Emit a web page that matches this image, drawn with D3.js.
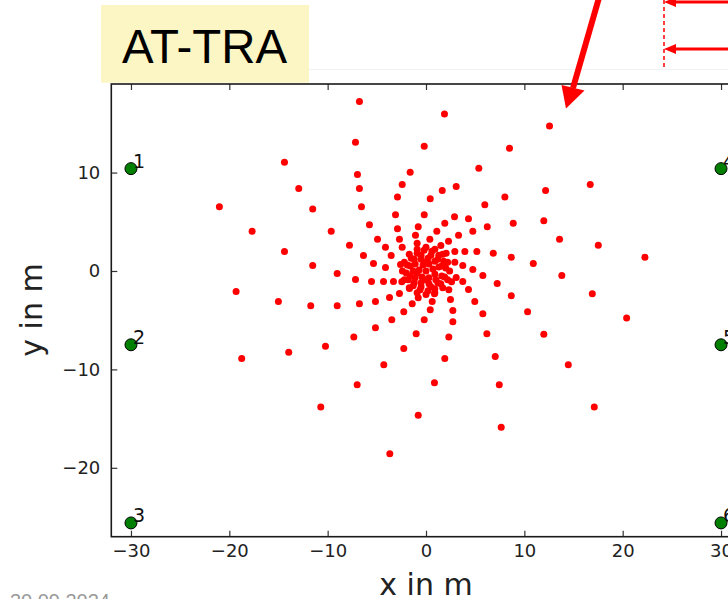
<!DOCTYPE html>
<html><head><meta charset="utf-8">
<script src="https://cdn.jsdelivr.net/npm/d3@7"></script>
<style>body{margin:0;background:#fff;} svg{display:block;}</style>
</head><body>
<svg id="c" width="728" height="599"></svg>
<script>
// ---- data ----
const xTicks = [-30, -20, -10, 0, 10, 20, 30];
const yTicks = [-20, -10, 0, 10];
const stationX = [-30, -30, -30, 30, 30, 30];
const stationY = [10.4, -7.5, -25.6, 10.4, -7.5, -25.6];
const stationLabels = ["1", "2", "3", "4", "5", "6"];
const arrayX = [
 -6.77,1.88,-7.17,-0.18,-14.39,5.37,-1.61,-6.97,-12.94,-2.42,-6.77,3.07,1.65,-2.90,0.43,-11.52,-6.56,5.98,
 -17.68,-9.64,-5.75,-3.10,-0.18,2.90,4.32,1.91,-0.79,-2.90,6.23,4.76,1.10,-4.93,-1.07,-2.70,3.31,2.29,0.39,
 -7.78,-4.12,-2.42,-14.39,2.93,3.95,5.17,-6.36,-11.52,-5.34,-4.12,3.74,4.76,5.78,-9.03,-7.17,-5.54,-4.32,-3.31,
 3.07,3.74,4.32,-15.01,-11.72,-9.03,-6.77,-5.14,-3.71,-2.70,4.96,2.49,0.63,5.78,2.73,0.43,-1.40,-2.26,-3.48,
 -0.18,2.73,-5.14,-7.34,-1.00,2.32,6.19,-13.96,-10.22,-2.26,1.91,-4.29,0.86,-7.00,-10.70,-0.79,-3.68,
 12.56,8.49,16.70,12.16,8.02,8.87,11.98,13.58,17.52,22.26,6.84,8.67,10.91,13.81,7.24,8.67,16.91,10.33,20.40,
 11.98,7.04,14.47,7.45,17.11,7.65,-21.01,-19.31,-18.74,-3.54,-2.59,1.51,2.05,2.93,-2.46,-1.68,-0.79,2.32,0.86,-0.90,
 2.0,1.8,1.3,0.6,-0.2,-0.9,-1.5,-1.9,-2.0,-1.8,-1.3,-0.6,0.2,0.9,1.5,1.9,
 1.3,0.9,0.2,-0.5,-1.1,-1.3,-1.1,-0.5,0.3,1.0,0.7,0.3,-0.3,-0.7,-0.4,0.3,0.0,2.6,
 2.4,2.2,1.7,0.9,0.0,-0.9,-1.7,-2.2,-2.4,-2.2,-1.7,-0.9,0.0,0.9,1.7,2.2,
 1.6,1.2,0.5,-0.5,-1.2,-1.6,-1.6,-1.2,-0.5,0.5,1.2,1.6,0.9,0.0,-0.9,0.0
];
const arrayY = [
 17.21,15.96,13.08,12.67,11.05,10.44,10.03,9.80,8.38,8.78,8.38,8.58,8.17,7.53,7.33,6.31,6.52,6.72,
 4.04,4.04,4.69,5.71,5.71,5.50,5.30,4.85,4.49,4.28,4.49,4.04,4.04,3.23,3.63,3.23,3.63,3.03,3.23,
 2.62,2.42,2.42,1.98,1.98,1.98,1.98,1.57,0.56,0.76,0.36,0.56,0.15,-0.46,-0.25,-0.86,-1.07,-1.07,-1.07,
 -0.66,-1.07,-1.88,-3.10,-3.53,-3.53,-3.33,-3.10,-2.69,-2.28,-3.10,-2.89,-3.10,-4.35,-4.01,-3.94,-3.33,-4.14,-4.95,
 -4.95,-5.16,-5.77,-6.72,-6.38,-6.72,-6.38,-8.27,-7.66,-7.87,-8.88,-9.52,-11.35,-11.55,-13.83,-14.67,-18.56,
 14.74,12.47,8.78,8.17,7.53,4.85,5.10,3.23,2.62,1.40,1.81,1.40,0.76,-0.46,-1.27,-2.52,-2.31,-4.14,-4.79,
 -6.42,-8.68,-9.52,-11.55,-13.83,-15.89,6.52,-2.08,-8.88,1.57,0.66,2.59,1.81,0.89,-1.10,-1.78,-2.72,-1.91,-2.31,2.82,
 0.3,1.0,1.6,2.0,2.1,1.8,1.3,0.6,-0.2,-0.9,-1.5,-1.9,-2.0,-1.8,-1.3,-0.6,
 0.4,1.0,1.3,1.2,0.7,0.0,-0.7,-1.2,-1.3,-0.9,0.2,0.7,0.6,0.1,-0.6,-0.7,0.0,-1.1,
 0.0,0.9,1.7,2.2,2.4,2.2,1.7,0.9,0.0,-0.9,-1.7,-2.2,-2.4,-2.2,-1.7,-0.9,
 0.5,1.2,1.6,1.6,1.2,0.5,-0.5,-1.2,-1.6,-1.6,-1.2,-0.5,-0.3,0.9,-0.2,-0.9
];
const titleText = "AT-TRA";
const xLabel = "x in m";
const yLabel = "y in m";
const dateText = "30.09.2024";

// ---- drawing ----
const svg = d3.select("#c");
const L = 111.3, R = 740.7, T = 84, B = 536.7;
const x = d3.scaleLinear().domain([-32, 32]).range([L, R]);
const y = d3.scaleLinear().domain([-27, 19]).range([B, T]);
const fmt = d => d < 0 ? "\u2212" + Math.abs(d) : String(d);
const FONT = "DejaVu Sans, sans-serif";

// title box
svg.append("rect").attr("x", 101).attr("y", 5).attr("width", 208).attr("height", 77.7).attr("fill", "#fcf6c4");
svg.append("text").attr("x", 122).attr("y", 63).attr("font-family", "Liberation Sans, Arial, sans-serif")
  .attr("font-size", 48).attr("textLength", 165).attr("lengthAdjust", "spacingAndGlyphs")
  .attr("fill", "#000").text(titleText);
svg.append("line").attr("x1", 309).attr("x2", 728).attr("y1", 69.5).attr("y2", 69.5).attr("stroke", "#f2f2f2");

// date (cut off at bottom, as in the source slide)
svg.append("text").attr("x", 110).attr("y", 608).attr("text-anchor", "end")
  .attr("font-family", "Liberation Sans, Arial, sans-serif").attr("font-size", 20).attr("fill", "#999").text(dateText);

// axes
const gx = svg.append("g").attr("transform", `translate(0,${B})`)
  .call(d3.axisBottom(x).tickValues(xTicks).tickFormat(fmt).tickSize(-6).tickPadding(8));
const gxt = svg.append("g").attr("transform", `translate(0,${T})`)
  .call(d3.axisTop(x).tickValues(xTicks).tickFormat("").tickSize(-6));
const gy = svg.append("g").attr("transform", `translate(${L},0)`)
  .call(d3.axisLeft(y).tickValues(yTicks).tickFormat(fmt).tickSize(-6).tickPadding(11));
const gyr = svg.append("g").attr("transform", `translate(${R},0)`)
  .call(d3.axisRight(y).tickValues(yTicks).tickFormat("").tickSize(-6));
[gx, gxt, gy, gyr].forEach(g => {
  g.select(".domain").remove();
  g.selectAll(".tick line").attr("stroke", "#333").attr("stroke-width", 1.2);
  g.selectAll(".tick text").attr("font-family", FONT).attr("font-size", 18).attr("fill", "#222");
});
svg.append("rect").attr("x", L).attr("y", T).attr("width", R - L).attr("height", B - T)
  .attr("fill", "none").attr("stroke", "#1a1a1a").attr("stroke-width", 1.6);

// axis labels
svg.append("text").attr("x", 426).attr("y", 595).attr("text-anchor", "middle")
  .attr("font-family", FONT).attr("font-size", 30).attr("fill", "#222").text(xLabel);
svg.append("text").attr("transform", "translate(42,310) rotate(-90)").attr("text-anchor", "middle")
  .attr("font-family", FONT).attr("font-size", 30).attr("fill", "#222").text(yLabel);

// red array points
svg.append("g").selectAll("circle").data(d3.range(arrayX.length)).join("circle")
  .attr("cx", i => x(arrayX[i])).attr("cy", i => y(arrayY[i])).attr("r", 3.5).attr("fill", "#ff0000");

// green stations
svg.append("g").selectAll("circle").data(d3.range(stationX.length)).join("circle")
  .attr("cx", i => x(stationX[i])).attr("cy", i => y(stationY[i])).attr("r", 6)
  .attr("fill", "#007f00").attr("stroke", "#000").attr("stroke-width", 1);
svg.append("g").selectAll("text").data(d3.range(stationX.length)).join("text")
  .attr("x", i => x(stationX[i]) + 2).attr("y", i => y(stationY[i]) - 1)
  .attr("font-family", FONT).attr("font-size", 19).attr("fill", "#111").text(i => stationLabels[i]);

// red annotation arrow
const red = "#ff0000";
svg.append("line").attr("x1", 599.5).attr("y1", -4).attr("x2", 573).attr("y2", 88)
  .attr("stroke", red).attr("stroke-width", 6);
svg.append("path").attr("d", "M561.5,85 L584.5,90.5 L566,108.5 Z").attr("fill", red);

// top-right marker lines
svg.append("line").attr("x1", 664).attr("x2", 664).attr("y1", 0).attr("y2", 67)
  .attr("stroke", red).attr("stroke-width", 1.5).attr("stroke-dasharray", "4,3");
[2, 49].forEach(yy => {
  svg.append("line").attr("x1", 728).attr("x2", 672).attr("y1", yy).attr("y2", yy)
    .attr("stroke", red).attr("stroke-width", 3);
  svg.append("path").attr("d", `M664,${yy} L676,${yy - 5} L676,${yy + 5} Z`).attr("fill", red);
});
</script>
</body></html>
